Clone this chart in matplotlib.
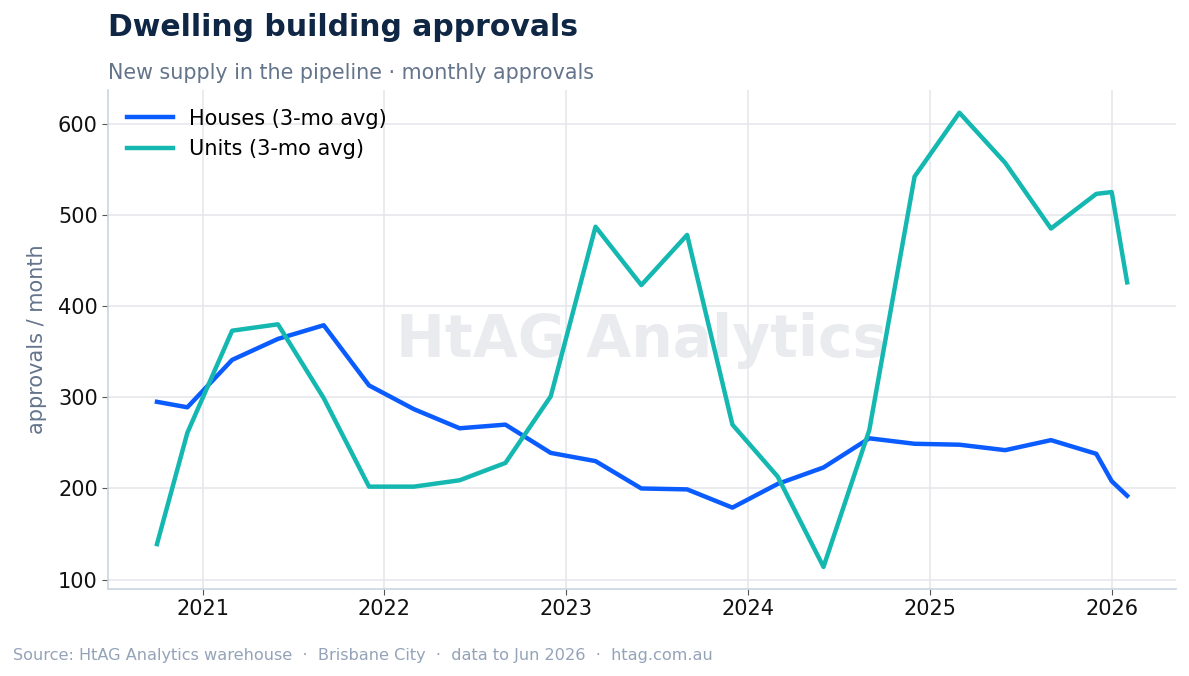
import pandas as pd
import matplotlib
matplotlib.use('Agg')
import matplotlib.pyplot as plt
import matplotlib.dates as mdates

# Datas dos pontos (trimestral + últimos meses)
dates = pd.to_datetime([
    '2020-10-01', '2020-12-01', '2021-03-01', '2021-06-01', '2021-09-01',
    '2021-12-01', '2022-03-01', '2022-06-01', '2022-09-01', '2022-12-01',
    '2023-03-01', '2023-06-01', '2023-09-01', '2023-12-01', '2024-03-01',
    '2024-06-01', '2024-09-01', '2024-12-01', '2025-03-01', '2025-06-01',
    '2025-09-01', '2025-12-01', '2026-01-01', '2026-02-01',
])

houses = [295, 289, 341, 364, 379, 313, 287, 266, 270, 239,
          230, 200, 199, 179, 205, 223, 255, 249, 248, 242,
          253, 238, 208, 192]

units = [139, 261, 373, 380, 299, 202, 202, 209, 228, 301,
         487, 423, 478, 270, 213, 114, 264, 542, 612, 557,
         485, 523, 525, 426]

fig = plt.figure(figsize=(11.89, 6.76), dpi=100)
ax = fig.add_axes([0.091, 0.129, 0.898, 0.738])

ax.plot(dates, houses, color='#0b5cff', lw=3.2, label='Houses (3-mo avg)', zorder=3)
ax.plot(dates, units, color='#14b8b0', lw=3.2, label='Units (3-mo avg)', zorder=3)

# marca d'água
ax.text(0.5, 0.497, 'HtAG Analytics', transform=ax.transAxes, ha='center', va='center',
        fontsize=42, fontweight='bold', color='#e5e7eb', alpha=0.8, zorder=1)

ax.set_ylim(90, 637)
ax.set_xlim(pd.Timestamp('2020-06-25'), pd.Timestamp('2026-05-10'))
ax.set_yticks([100, 200, 300, 400, 500, 600])
ax.xaxis.set_major_locator(mdates.YearLocator())
ax.xaxis.set_major_formatter(mdates.DateFormatter('%Y'))

ax.grid(True, color='#e5e7eb', lw=1.2, zorder=0)
ax.set_axisbelow(True)
for s in ['top', 'right']:
    ax.spines[s].set_visible(False)
for s in ['left', 'bottom']:
    ax.spines[s].set_color('#cbd5e1')
    ax.spines[s].set_linewidth(1.2)
ax.tick_params(labelsize=15, colors='#111111', length=4)
ax.tick_params(axis='both', color='#555555')

ax.set_ylabel('approvals / month', fontsize=15, color='#64748b', labelpad=8)

fig.text(0.091, 0.96, 'Dwelling building approvals', fontsize=21.5, fontweight='bold',
         color='#0f2744', ha='left', va='center')
fig.text(0.091, 0.892, 'New supply in the pipeline · monthly approvals', fontsize=14.9,
         color='#64748b', ha='left', va='center')
fig.text(0.011, 0.031, 'Source: HtAG Analytics warehouse  ·  Brisbane City  ·  data to Jun 2026  ·  htag.com.au',
         fontsize=11.6, color='#94a3b8', ha='left', va='center')

ax.legend(loc='upper left', fontsize=15, frameon=False, handlelength=2.2,
          borderaxespad=0.5, labelspacing=0.5)

plt.savefig('out.png', dpi=100)
